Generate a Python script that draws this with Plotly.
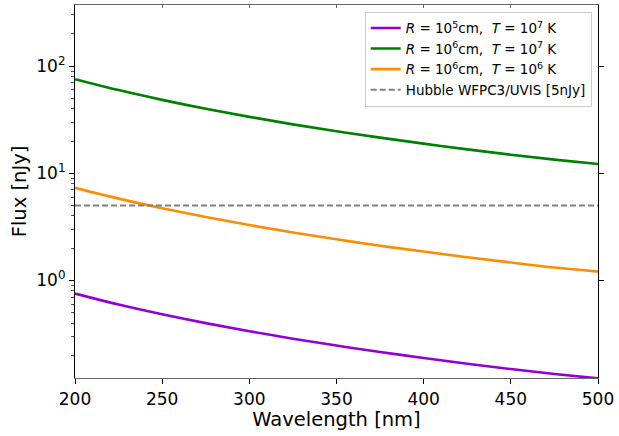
import plotly.graph_objects as go

# Wavelength grid [nm]
wavelength = [200, 225, 250, 275, 300, 325, 350, 375, 400, 425, 450, 475, 500]

# Flux [nJy] for each emitter model
flux_r5_t7 = [0.755, 0.597, 0.484, 0.400, 0.336, 0.286, 0.247, 0.215, 0.189, 0.167, 0.149, 0.134, 0.122]
flux_r6_t7 = [75.5, 59.7, 48.4, 40.0, 33.6, 28.6, 24.7, 21.5, 18.9, 16.7, 14.9, 13.4, 12.2]
flux_r6_t6 = [7.31, 5.80, 4.72, 3.91, 3.29, 2.80, 2.42, 2.11, 1.86, 1.645, 1.47, 1.32, 1.21]

# Detection limit
hubble_limit = 5.0

series_names = [
    "<i>R</i> = 10<sup>5</sup>cm,  <i>T</i> = 10<sup>7</sup> K",
    "<i>R</i> = 10<sup>6</sup>cm,  <i>T</i> = 10<sup>7</sup> K",
    "<i>R</i> = 10<sup>6</sup>cm,  <i>T</i> = 10<sup>6</sup> K",
]
series_colors = ["#9400D3", "#008000", "#FF8C00"]
limit_name = "Hubble WFPC3/UVIS [5nJy]"

x_range = [200, 500]
y_range_log = [-0.91, 2.57]

major_y = [1, 10, 100]
major_y_text = ["10<sup>0</sup>", "10<sup>1</sup>", "10<sup>2</sup>"]
minor_y = [m * 10 ** e for e in (-1, 0, 1, 2) for m in range(2, 10)]
x_ticks = [200, 250, 300, 350, 400, 450, 500]

FONT = "DejaVu Sans"

fig = go.Figure()
for ys, name, color in zip([flux_r5_t7, flux_r6_t7, flux_r6_t6], series_names, series_colors):
    fig.add_trace(go.Scatter(
        x=wavelength, y=ys, mode="lines", name=name,
        line=dict(color=color, width=2.6, shape="spline"),
    ))

fig.add_trace(go.Scatter(
    x=x_range, y=[hubble_limit, hubble_limit], mode="lines", name=limit_name,
    line=dict(color="#808080", width=2, dash="6px,3px"),
))

# companion axes for the top and right frame edges
fig.add_trace(go.Scatter(
    x=x_range, y=[hubble_limit, hubble_limit], mode="lines",
    xaxis="x2", yaxis="y2", showlegend=False, hoverinfo="skip",
    line=dict(color="rgba(0,0,0,0)", width=0),
))

fig.update_layout(
    width=619, height=436,
    margin=dict(l=75, r=19, t=5, b=58),
    paper_bgcolor="white", plot_bgcolor="white",
    font=dict(family=FONT, color="black", size=17),
    showlegend=True,
    legend=dict(
        x=0.988, y=0.982, xanchor="right", yanchor="top",
        bgcolor="rgba(255,255,255,0.85)", bordercolor="#cccccc", borderwidth=1,
        font=dict(family=FONT, size=13.5, color="black"),
        tracegroupgap=0, itemwidth=30,
    ),
    xaxis=dict(
        range=x_range, tickvals=x_ticks, showgrid=False, zeroline=False,
        showline=True, linecolor="#666666", linewidth=1.2,
        ticks="outside", ticklen=5, tickwidth=1.1, tickcolor="black",
        tickfont=dict(size=17),
        title=dict(text="Wavelength [nm]", font=dict(size=19.5), standoff=2),
    ),
    yaxis=dict(
        type="log", range=y_range_log, showgrid=False, zeroline=False,
        tickmode="array", tickvals=major_y, ticktext=major_y_text,
        showline=True, linecolor="black", linewidth=1.2,
        ticks="outside", ticklen=5, tickwidth=1.1, tickcolor="black",
        tickfont=dict(size=17),
        minor=dict(tickmode="array", tickvals=minor_y, ticks="outside",
                   ticklen=3, tickwidth=0.9, tickcolor="#555555", showgrid=False),
        title=dict(text="Flux [nJy]", font=dict(size=19.5), standoff=4),
    ),
    xaxis2=dict(
        overlaying="x", side="top", anchor="y2", range=x_range, tickvals=x_ticks,
        showticklabels=False, showgrid=False, zeroline=False,
        showline=True, linecolor="#666666", linewidth=1.2,
        ticks="inside", ticklen=3, tickwidth=1, tickcolor="#666666",
    ),
    yaxis2=dict(
        overlaying="y", side="right", anchor="x2", type="log", range=y_range_log,
        tickmode="array", tickvals=major_y, ticktext=["", "", ""],
        showticklabels=False, showgrid=False, zeroline=False,
        showline=True, linecolor="black", linewidth=1.2,
        ticks="outside", ticklen=5, tickwidth=1.1, tickcolor="black",
    ),
)

fig.write_html("out.html")
